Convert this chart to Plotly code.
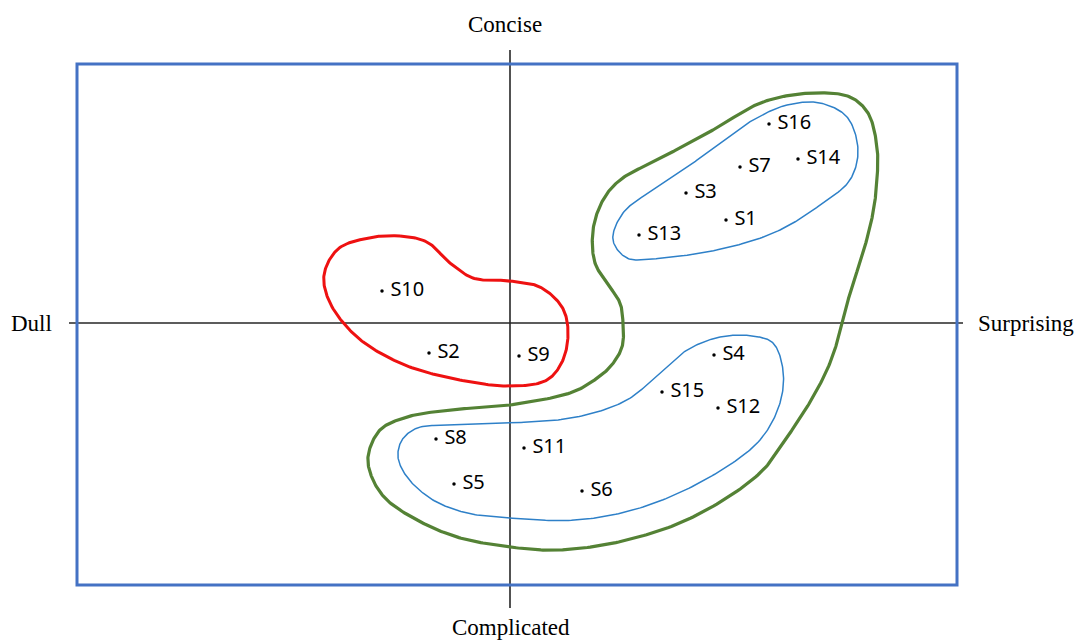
import numpy as np
import plotly.graph_objects as go

# ---- data ----
labels = ["S1", "S2", "S3", "S4", "S5", "S6", "S7", "S8", "S9", "S10",
          "S11", "S12", "S13", "S14", "S15", "S16"]
surprising = [2.16, -0.81, 1.76, 2.04, -0.56, 0.72, 2.30, -0.74, 0.09, -1.28,
              0.14, 2.08, 1.29, 2.88, 1.52, 2.59]
concise = [1.03, -0.30, 1.30, -0.32, -1.61, -1.68, 1.56, -1.16, -0.33, 0.32,
           -1.25, -0.85, 0.88, 1.64, -0.69, 1.99]

axis_names = ["Concise", "Complicated", "Dull", "Surprising"]

# outline control points (closed loops)
red_x = [-1.10, -0.83, -0.60, -0.37, 0.00, 0.30, 0.52, 0.58, 0.53, 0.37, 0.00,
         -0.60, -1.10, -1.53, -1.80, -1.86, -1.72, -1.42]
red_y = [0.87, 0.81, 0.60, 0.45, 0.42, 0.36, 0.16, -0.07, -0.37, -0.57, -0.63,
         -0.55, -0.40, -0.14, 0.20, 0.48, 0.74, 0.85]

blue_top_x = [2.77, 3.10, 3.37, 3.48, 3.40, 3.13, 2.70, 2.20, 1.53, 1.17, 1.03,
              1.13, 1.47, 1.83, 2.10, 2.43]
blue_top_y = [2.18, 2.20, 2.06, 1.73, 1.43, 1.20, 0.93, 0.76, 0.65, 0.65, 0.83,
              1.10, 1.36, 1.60, 1.80, 2.03]

blue_bot_x = [2.10, 2.43, 2.63, 2.73, 2.70, 2.50, 2.00, 1.33, 0.67, 0.00, -0.43,
              -0.77, -1.03, -1.12, -1.08, -0.93, -0.60, 0.00, 0.67, 1.17, 1.50, 1.77]
blue_bot_y = [-0.14, -0.13, -0.20, -0.47, -0.80, -1.17, -1.54, -1.84, -1.97, -1.95,
              -1.90, -1.77, -1.54, -1.34, -1.17, -1.05, -1.02, -1.00, -0.94, -0.77,
              -0.50, -0.27]

green_x = [2.03, 2.53, 3.03, 3.40, 3.58, 3.67, 3.67, 3.63, 3.53, 3.40, 3.32, 3.20,
           3.03, 2.80, 2.50, 1.83, 1.17, 0.50, 0.00, -0.53, -0.93, -1.23, -1.37,
           -1.42, -1.30, -1.03, -0.60, 0.00, 0.60, 0.80, 1.00, 1.12, 1.13, 1.10,
           0.97, 0.85, 0.83, 0.93, 1.10, 1.53]
green_y = [1.93, 2.21, 2.30, 2.26, 2.10, 1.76, 1.43, 1.10, 0.70, 0.30, -0.02, -0.40,
           -0.74, -1.10, -1.50, -1.94, -2.17, -2.27, -2.24, -2.14, -1.97, -1.77,
           -1.57, -1.34, -1.07, -0.94, -0.87, -0.82, -0.70, -0.60, -0.44, -0.24,
           0.00, 0.20, 0.40, 0.60, 0.93, 1.23, 1.43, 1.66]


def closed_curve(xs, ys, n=24, alpha=0.5):
    """Centripetal Catmull-Rom spline through a closed loop of points."""
    P = np.column_stack([xs, ys]).astype(float)
    m = len(P)
    out = []
    for i in range(m):
        p0, p1, p2, p3 = P[(i - 1) % m], P[i], P[(i + 1) % m], P[(i + 2) % m]
        t0 = 0.0
        t1 = t0 + np.linalg.norm(p1 - p0) ** alpha
        t2 = t1 + np.linalg.norm(p2 - p1) ** alpha
        t3 = t2 + np.linalg.norm(p3 - p2) ** alpha
        t = np.linspace(t1, t2, n, endpoint=False)[:, None]
        a1 = (t1 - t) / (t1 - t0) * p0 + (t - t0) / (t1 - t0) * p1
        a2 = (t2 - t) / (t2 - t1) * p1 + (t - t1) / (t2 - t1) * p2
        a3 = (t3 - t) / (t3 - t2) * p2 + (t - t2) / (t3 - t2) * p3
        b1 = (t2 - t) / (t2 - t0) * a1 + (t - t0) / (t2 - t0) * a2
        b2 = (t3 - t) / (t3 - t1) * a2 + (t - t1) / (t3 - t1) * a3
        c = (t2 - t) / (t2 - t1) * b1 + (t - t1) / (t2 - t1) * b2
        out.append(c)
    C = np.vstack(out + [P[:1]])
    return C[:, 0], C[:, 1]


fig = go.Figure()

# axis cross lines and frame
fig.add_shape(type="line", x0=-4.41, x1=4.53, y0=0, y1=0,
              line=dict(color="#262626", width=1.6), layer="below")
fig.add_shape(type="line", x0=0, x1=0, y0=2.73, y1=-2.85,
              line=dict(color="#262626", width=1.6), layer="below")
fig.add_shape(type="rect", x0=-4.33, x1=4.47, y0=-2.62, y1=2.59,
              line=dict(color="#4472C4", width=3), layer="below")

for xs, ys, col, w in [(red_x, red_y, "#EE1111", 3),
                       (green_x, green_y, "#548235", 3.2),
                       (blue_top_x, blue_top_y, "#2E80C8", 1.5),
                       (blue_bot_x, blue_bot_y, "#2E80C8", 1.5)]:
    cx, cy = closed_curve(xs, ys)
    fig.add_trace(go.Scatter(x=cx, y=cy, mode="lines",
                             line=dict(color=col, width=w), hoverinfo="skip"))

fig.add_trace(go.Scatter(
    x=surprising, y=concise, mode="markers+text",
    text=[" " + s for s in labels], textposition="middle right",
    marker=dict(color="black", size=3.5),
    textfont=dict(family="Noto Sans", size=20, color="black"),
))

serif = dict(family="Liberation Serif", size=23, color="black")
fig.add_annotation(x=-0.05, y=2.99, text=axis_names[0], showarrow=False, font=serif)
fig.add_annotation(x=0.01, y=-3.04, text=axis_names[1], showarrow=False, font=serif)
fig.add_annotation(x=-4.79, y=0, text=axis_names[2], showarrow=False, font=serif)
fig.add_annotation(x=5.16, y=0, text=axis_names[3], showarrow=False, font=serif)

fig.update_layout(
    width=1076, height=640, margin=dict(l=0, r=0, t=0, b=0),
    paper_bgcolor="white", plot_bgcolor="white", showlegend=False,
    xaxis=dict(range=[-5.10, 5.66], visible=False, fixedrange=True),
    yaxis=dict(range=[-3.17, 3.23], visible=False, fixedrange=True),
)

fig.write_html(
    "out.html",
    config={"displayModeBar": False},
    post_script="document.body.style.margin='0';document.body.style.overflow='hidden';",
)
